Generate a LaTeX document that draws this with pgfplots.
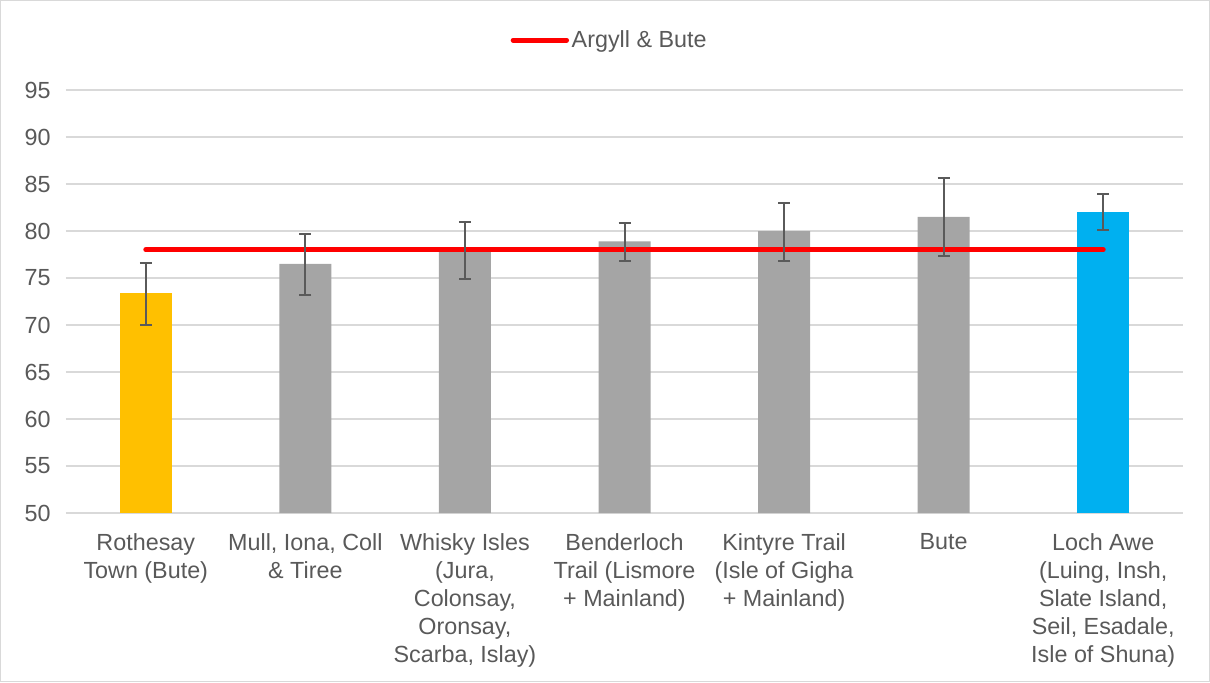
\documentclass[border=0pt]{standalone}
\usepackage{pgfplots}
\pgfplotsset{compat=1.18}
\usepackage{pgfplotstable}
\usepackage{fontspec}
\setmainfont{Liberation Sans}

\definecolor{txt}{RGB}{89,89,89}
\definecolor{gridc}{RGB}{217,217,217}
\definecolor{gold}{RGB}{255,192,0}
\definecolor{midgray}{RGB}{165,165,165}
\definecolor{sky}{RGB}{0,176,240}
\definecolor{errc}{RGB}{90,90,90}

% score, upper and lower error
\pgfplotstableread{
x y ep em
0 73.4 3.15 3.35
1 76.5 3.2 3.3
2 78.0 3.0 3.1
3 78.9 2.0 2.1
4 80.0 3.0 3.2
5 81.5 4.1 4.2
6 82.0 1.9 1.9
}\scores

\begin{document}
\begin{tikzpicture}
\begin{axis}[
    at={(0,0)}, anchor=south west,
    scale only axis,
    width=837.75pt, height=317.25pt,
    xmin=-0.5, xmax=6.5,
    ymin=50, ymax=95,
    ytick distance=5,
    xtick={0,...,6},
    xticklabels={
        {Rothesay\\Town (Bute)},
        {Mull, Iona, Coll\\\& Tiree},
        {Whisky Isles\\(Jura,\\Colonsay,\\Oronsay,\\Scarba, Islay)},
        {Benderloch\\Trail (Lismore\\+ Mainland)},
        {Kintyre Trail\\(Isle of Gigha\\+ Mainland)},
        {Bute},
        {Loch Awe\\(Luing, Insh,\\Slate Island,\\Seil, Esadale,\\Isle of Shuna)}
    },
    x tick label style={align=center, font=\fontsize{17.5}{21}\selectfont, text=txt, yshift=-12pt},
    y tick label style={font=\fontsize{17.5}{21}\selectfont, text=txt, xshift=-8pt},
    /pgf/number format/assume math mode=true,
    axis line style={draw=none},
    major tick length=0pt,
    ymajorgrids=true,
    grid style={gridc, line width=0.9pt},
    legend style={at={(0.487,1.118)}, anchor=center, draw=none, fill=none,
        font=\fontsize{17.5}{21}\selectfont, text=txt},
    legend image code/.code={\draw[#1, line cap=round] (0pt,0pt) -- (40pt,0pt);},
]
\addplot[ybar, bar width=39pt, bar shift=0pt, fill=gold, draw=none, forget plot]
    coordinates {(0,73.4)};
\addplot[ybar, bar width=39pt, bar shift=0pt, fill=midgray, draw=none, forget plot]
    coordinates {(1,76.5) (2,78.0) (3,78.9) (4,80.0) (5,81.5)};
\addplot[ybar, bar width=39pt, bar shift=0pt, fill=sky, draw=none, forget plot]
    coordinates {(6,82.0)};

\addplot[red, line width=3.75pt, line cap=round] coordinates {(0,78) (6,78)};
\addlegendentry{Argyll \& Bute}

\addplot[forget plot, draw=none, mark=none,
    error bars/.cd, y dir=both, y explicit,
    error bar style={line width=1.5pt, draw=errc},
    error mark options={rotate=90, mark size=4.5pt, line width=1.5pt, draw=errc}]
    table[x=x, y=y, y error plus=ep, y error minus=em] {\scores};
\end{axis}
\draw[gridc, line width=0.75pt] (-49.1pt,-126.4pt) rectangle (857.6pt,384.4pt);
\pgfresetboundingbox
\useasboundingbox (-49.5pt,-126.75pt) rectangle (858pt,384.75pt);
\end{tikzpicture}
\end{document}
